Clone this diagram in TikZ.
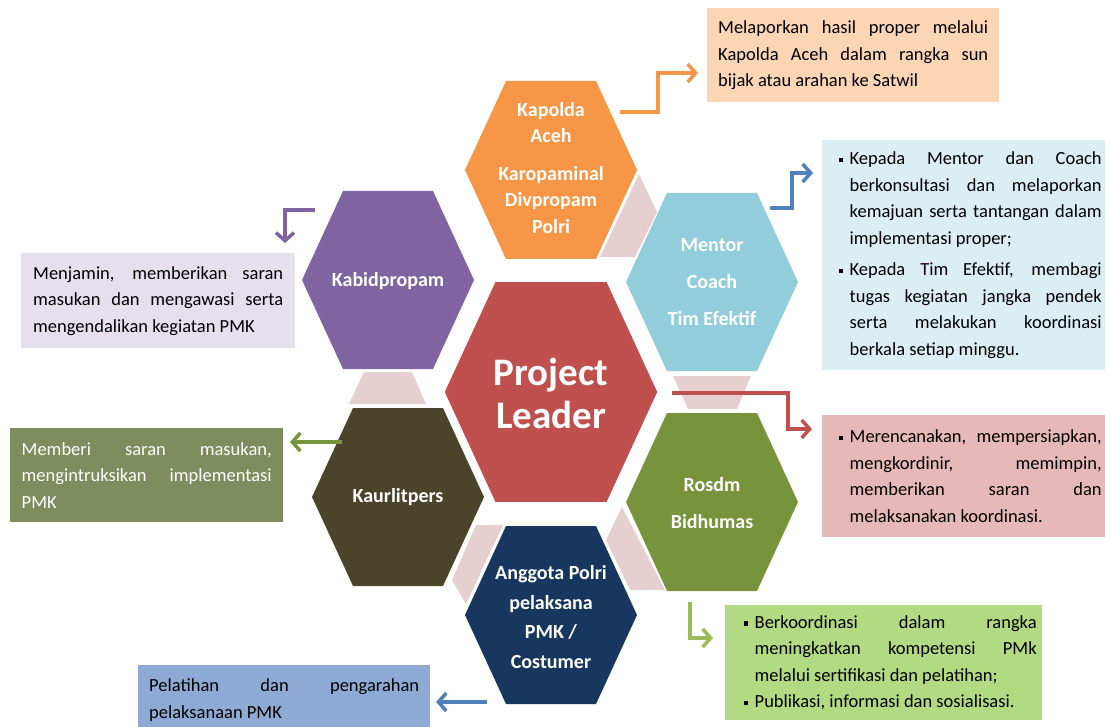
\documentclass[tikz,border=0pt]{standalone}
\usepackage{fontspec}
\setmainfont{Carlito}
\usetikzlibrary{arrows.meta}

\definecolor{kapcol}{HTML}{F79646}
\definecolor{mencol}{HTML}{92CDDC}
\definecolor{roscol}{HTML}{77933C}
\definecolor{angcol}{HTML}{17375E}
\definecolor{kaucol}{HTML}{4A452A}
\definecolor{kabcol}{HTML}{8064A2}
\definecolor{leadcol}{HTML}{C0504D}
\definecolor{linkcol}{HTML}{E6CFD0}
\definecolor{bluearr}{HTML}{4F81BD}
\definecolor{greenarr}{HTML}{9BBB59}
\definecolor{kapfill}{HTML}{FCD5B5}
\definecolor{menfill}{HTML}{DBEEF4}
\definecolor{leadfill}{HTML}{E6B9B8}
\definecolor{rosfill}{HTML}{B1DA82}
\definecolor{angfill}{HTML}{8EAAD4}
\definecolor{kaufill}{HTML}{7F8D5E}
\definecolor{kabfill}{HTML}{E5E0EC}

% justified line, bullet and indent
\newcommand{\jl}[2][252]{\makebox[#1pt][s]{#2}}
\newcommand{\bul}{\makebox[24pt][l]{\hspace{13pt}\rule[2.5pt]{4.5pt}{4.5pt}}}
\newcommand{\bulind}{\hspace*{24pt}}

\tikzset{
  hexa/.pic={\fill[pic actions] (-86,0) -- (-45,-89) -- (45,-89) -- (86,0) -- (45,89) -- (-45,89) -- cycle;},
  hexlabel/.style={text=white,align=center,inner sep=0pt},
  txtbox/.style={anchor=north west,align=left,inner ysep=0pt,font=\fontsize{18.5}{26.5}\selectfont},
  arr/.style={line width=3.5pt,-{Straight Barb[length=8pt,width=18pt]}}
}

\begin{document}
\begin{tikzpicture}[x=1pt,y=-1pt]
	\clip (0,0) rectangle (1105,727);

	% pale links between the outer cells
	\fill[linkcol] (600,257) -- (639,174) -- (657,212) -- (635,257) -- cycle;
	\fill[linkcol] (673,376) -- (751,376) -- (737,409) -- (688,409) -- cycle;
	\fill[linkcol] (622,507) -- (606,540) -- (630,590) -- (665,590) -- cycle;
	\fill[linkcol] (476,525) -- (503,525) -- (466,604) -- (452,580) -- cycle;
	\fill[linkcol] (364,372) -- (412,372) -- (426,404) -- (349,404) -- cycle;

	% cells
	\pic[fill=kapcol] at (551,170) {hexa};
	\pic[fill=mencol] at (712,282) {hexa};
	\pic[fill=roscol] at (712,502) {hexa};
	\pic[fill=angcol] at (551,615) {hexa};
	\pic[fill=kaucol] at (398,497) {hexa};
	\pic[fill=kabcol] at (388,280) {hexa};
	\pic[fill=leadcol,scale=1.235] at (551,392) {hexa};

	\node[hexlabel,font=\fontsize{20}{26.5}\selectfont\bfseries] (kapolda) at (551,168) {Kapolda\\Aceh\\[11pt]Karopaminal\\Divpropam\\Polri};
	\node[hexlabel,font=\fontsize{20}{37}\selectfont\bfseries] (mentor) at (712,282) {Mentor\\Coach\\Tim Efektif};
	\node[hexlabel,font=\fontsize{20}{37}\selectfont\bfseries] (rosdm) at (712,503) {Rosdm\\Bidhumas};
	\node[hexlabel,font=\fontsize{20}{29.7}\selectfont\bfseries] (anggota) at (551,617) {Anggota Polri\\pelaksana\\PMK /\\Costumer};
	\node[hexlabel,font=\fontsize{20}{24}\selectfont\bfseries] (kaurlit) at (398,497) {Kaurlitpers};
	\node[hexlabel,font=\fontsize{20}{24}\selectfont\bfseries] (kabid) at (388,281) {Kabidpropam};
	\node[hexlabel,font=\fontsize{39}{43}\selectfont\bfseries] (leader) at (551,393) {Project\\Leader};

	% notes
	\node[txtbox,fill=kapfill,minimum width=292,minimum height=94,inner xsep=11] (kapnote) at (707,8)
		{\jl[270]{Melaporkan hasil proper melalui}\\\jl[270]{Kapolda Aceh dalam rangka sun}\\bijak atau arahan ke Satwil};
	\node[txtbox,fill=menfill,minimum width=283,minimum height=230,inner xsep=2.5] (mennote) at (822,140)
		{\bul\jl{Kepada Mentor dan Coach}\\\bulind\jl{berkonsultasi dan melaporkan}\\\bulind\jl{kemajuan serta tantangan dalam}\\\bulind implementasi proper;\\[5pt]
		 \bul\jl{Kepada Tim Efektif, membagi}\\\bulind\jl{tugas kegiatan jangka pendek}\\\bulind\jl{serta melakukan koordinasi}\\\bulind berkala setiap minggu.};
	\node[txtbox,fill=leadfill,minimum width=283,minimum height=122,inner xsep=2.5] (leadnote) at (822,415)
		{\bul\jl{Merencanakan, mempersiapkan,}\\\bulind\jl{mengkordinir, memimpin,}\\\bulind\jl{memberikan saran dan}\\\bulind melaksanakan koordinasi.};
	\node[txtbox,fill=rosfill,minimum width=317,minimum height=115,inner xsep=5] (rosnote) at (725,605)
		{\bul\jl[282]{Berkoordinasi dalam rangka}\\\bulind\jl[282]{meningkatkan kompetensi PMk}\\\bulind melalui sertifikasi dan pelatihan;\\\bul Publikasi, informasi dan sosialisasi.};
	\node[txtbox,fill=angfill,minimum width=292,minimum height=70,inner xsep=11] (angnote) at (138,665)
		{\jl[270]{Pelatihan dan pengarahan}\\pelaksanaan PMK};
	\node[txtbox,fill=kaufill,text=white,minimum width=273,minimum height=94,inner xsep=11.5] (kaunote) at (10,428)
		{\jl[250]{Memberi saran masukan,}\\\jl[250]{mengintruksikan implementasi}\\PMK};
	\node[txtbox,fill=kabfill,minimum width=274,minimum height=95,inner xsep=12] (kabnote) at (21,253)
		{\jl[250]{Menjamin, memberikan saran}\\\jl[250]{masukan dan mengawasi serta}\\mengendalikan kegiatan PMK};

	% arrow ends
	\coordinate (kapout) at (620,112);
	\coordinate (kaptip) at (698,73);
	\coordinate (menout) at (770,208);
	\coordinate (mentip) at (813,173);
	\coordinate (leadout) at (672,393);
	\coordinate (leadtip) at (812,429);
	\coordinate (rosout) at (690,602);
	\coordinate (rostip) at (713,638);
	\coordinate (angout) at (487,702);
	\coordinate (angtip) at (436,702);
	\coordinate (kauout) at (342,442);
	\coordinate (kautip) at (290,442);
	\coordinate (kabout) at (315,210);
	\coordinate (kabtip) at (285,243);

	\draw[arr,kapcol] (kapout) -- ++(38,0) |- (kaptip);
	\draw[arr,bluearr] (menout) -- ++(22,0) |- (mentip);
	\draw[arr,leadcol] (leadout) -- ++(116,0) |- (leadtip);
	\draw[arr,greenarr] (rosout) |- (rostip);
	\draw[arr,bluearr] (angout) -- (angtip);
	\draw[arr,roscol] (kauout) -- (kautip);
	\draw[arr,kabcol] (kabout) -| (kabtip);
\end{tikzpicture}
\end{document}
